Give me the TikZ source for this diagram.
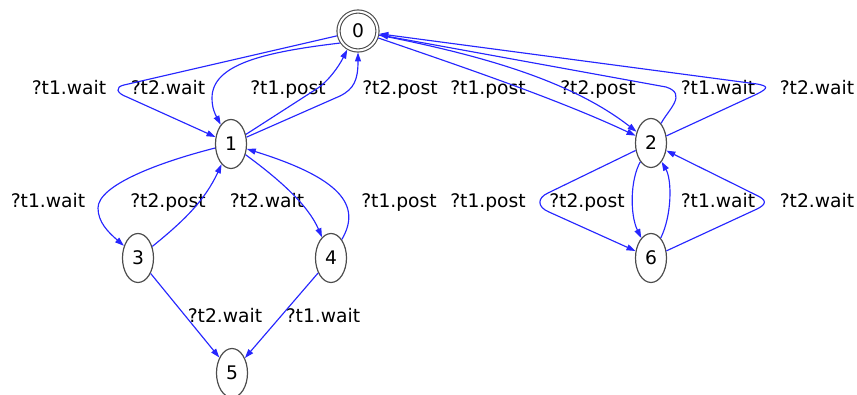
\documentclass[tikz,border=0pt]{standalone}
\usepackage{fontspec}
\setmainfont{DejaVu Sans}
\usetikzlibrary{shapes.geometric,arrows.meta}
\begin{document}
\begin{tikzpicture}[x=1pt,y=-1pt,
  txt/.style={font=\fontsize{18.7}{20}\selectfont},
  state/.style={txt, ellipse, draw=gray!60!black, line width=1.2pt,
    minimum width=31pt, minimum height=49pt, inner sep=0pt},
  init/.style={txt, circle, draw=gray!60!black, line width=1.1pt, double,
    double distance=2pt, minimum size=39pt, inner sep=0pt, outer sep=2pt},
  lbl/.style={txt, anchor=base, inner sep=0pt},
  tr/.style={draw=blue!85!white, line width=1.15pt, -{Triangle[length=9pt,width=6pt]}}
]
\useasboundingbox (0,0) rectangle (857,395);

% states
\node[init]  (n0) at (358,31)  {0};
\node[state] (n1) at (231,144) {1};
\node[state] (n2) at (651,143) {2};
\node[state] (n3) at (138,258) {3};
\node[state] (n4) at (331,258) {4};
\node[state] (n5) at (232,373) {5};
\node[state] (n6) at (651,258) {6};

% transition labels, first row
\node[lbl] (l01a) at (69,95)  {?t1.wait};
\node[lbl] (l01b) at (168,95) {?t2.wait};
\node[lbl] (l10a) at (288,95) {?t1.post};
\node[lbl] (l10b) at (400,95) {?t2.post};
\node[lbl] (l02a) at (488,95) {?t1.post};
\node[lbl] (l02b) at (598,95) {?t2.post};
\node[lbl] (l20a) at (718,95) {?t1.wait};
\node[lbl] (l20b) at (817,95) {?t2.wait};
% second row
\node[lbl] (l13) at (48,208)  {?t1.wait};
\node[lbl] (l31) at (168,208) {?t2.post};
\node[lbl] (l14) at (267,208) {?t2.wait};
\node[lbl] (l41) at (399,208) {?t1.post};
\node[lbl] (l26a) at (488,208) {?t1.post};
\node[lbl] (l26b) at (587,208) {?t2.post};
\node[lbl] (l62a) at (718,208) {?t1.wait};
\node[lbl] (l62b) at (817,208) {?t2.wait};
% third row
\node[lbl] (l35) at (225,323) {?t2.wait};
\node[lbl] (l45) at (323,323) {?t1.wait};

% transitions between 0 and 1
\draw[tr] (n0) -- (124,85) .. controls (115,87) and (116,93) .. (127,97) -- (n1);
\draw[tr] (n0.214) .. controls (265,52) and (212,64) .. (212,98)
          .. controls (212,108) and (215,114) .. (n1);
\draw[tr] (n1) -- (318,88) .. controls (328,81) and (338,68) .. (n0.240);
\draw[tr] (n1) -- (340,96) .. controls (354,89) and (358,80) .. (n0.270);

% transitions between 0 and 2
\draw[tr] (n0) .. controls (460,66) and (560,100) .. (n2);
\draw[tr] (n0) .. controls (480,55) and (570,80) .. (n2);
\draw[tr] (n2) .. controls (668,110) and (688,94) .. (666,87) -- (n0);
\draw[tr] (n2) -- (757,94) .. controls (769,88) and (768,86) .. (757,84) -- (n0);

% transitions between 2 and 6
\draw[tr] (n2) -- (548,193) .. controls (537,198) and (537,207) .. (549,212) -- (n6);
\draw[tr] (n2) .. controls (630,180) and (630,215) .. (n6);
\draw[tr] (n6) .. controls (672,215) and (672,180) .. (n2);
\draw[tr] (n6) -- (757,209) .. controls (767,204) and (767,200) .. (756,195) -- (n2);

% transitions below 1
\draw[tr] (n1) .. controls (160,162) and (98,185) .. (98,208)
          .. controls (98,222) and (108,232) .. (n3);
\draw[tr] (n3) .. controls (185,220) and (205,200) .. (n1);
\draw[tr] (n1) .. controls (280,180) and (308,205) .. (n4);
\draw[tr] (n4) .. controls (362,205) and (340,178) .. (n1);
\draw[tr] (n3) -- (n5);
\draw[tr] (n4) -- (n5);
\end{tikzpicture}
\end{document}
